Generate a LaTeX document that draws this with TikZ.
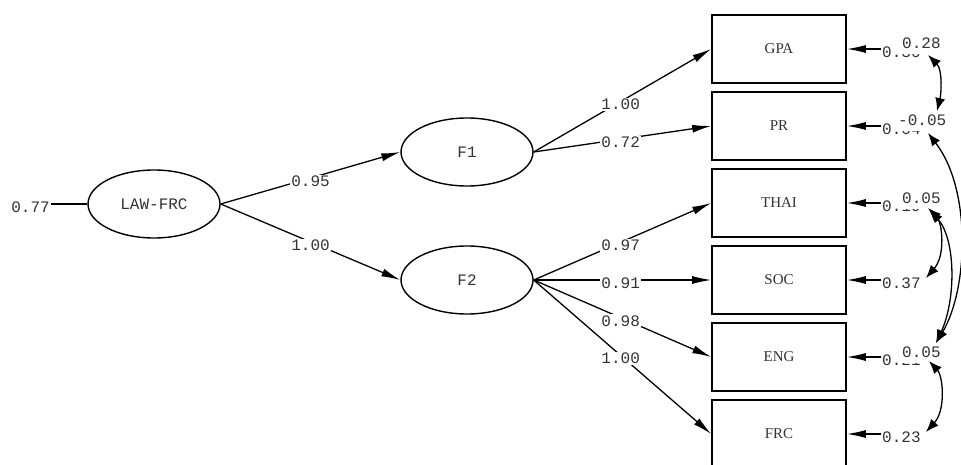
\documentclass[tikz,border=0pt]{standalone}
\usepackage{fontspec}
\setmonofont{Liberation Mono}
\newfontfamily\boxfont{Liberation Serif}
\usetikzlibrary{shapes.geometric,arrows.meta}
\tikzset{
  every node/.style={text=black!80},
  mono/.style={font=\ttfamily\fontsize{16pt}{18pt}\selectfont},
  obs/.style={draw, rectangle, line width=1.6pt, minimum width=134pt, minimum height=68pt,
    inner sep=0pt, font=\boxfont\fontsize{15pt}{17pt}\selectfont},
  lat/.style={draw, ellipse, line width=1.4pt, minimum width=132pt, minimum height=68pt,
    inner sep=0pt, mono},
  pathline/.style={line width=1.3pt, -{Latex[length=19pt,width=8pt]}},
  plainline/.style={line width=1.3pt},
  lab/.style={fill=white, inner sep=1pt, mono, yshift=-3pt},
  errtxt/.style={inner sep=1pt, mono, anchor=west},
  covtxt/.style={fill=white, inner sep=0pt, text depth=6pt, mono, anchor=west},
  cov/.style={line width=1.3pt, {Latex[length=13pt,width=10pt]}-{Latex[length=13pt,width=10pt]}},
}
\begin{document}
\begin{tikzpicture}[x=1pt,y=-1pt]
\useasboundingbox (0,0) rectangle (961,465);
\fill[white] (0,0) rectangle (961,465);

% latent variables
\node[lat] (law) at (154,204) {LAW-FRC};
\node[lat] (f1) at (467,152) {F1};
\node[lat] (f2) at (467,280) {F2};

% observed variables
\node[obs] (gpa)  at (779,49)  {GPA};
\node[obs] (pr)   at (779,126) {PR};
\node[obs] (thai) at (779,203) {THAI};
\node[obs] (soc)  at (779,280) {SOC};
\node[obs] (eng)  at (779,357) {ENG};
\node[obs] (frc)  at (779,434) {FRC};

% residual of LAW-FRC
\node[errtxt, anchor=east] (r0) at (51,207) {0.77};
\draw[plainline] (r0.east |- law.west) -- (law.west);

% structural paths
\draw[pathline] (law.east) -- node[lab]{0.95} (f1.west);
\draw[pathline] (law.east) -- node[lab]{1.00} (f2.west);

% loadings
\draw[pathline] (f1.east) -- node[lab, pos=0.49]{1.00} (gpa.west);
\draw[pathline] (f1.east) -- node[lab, pos=0.49]{0.72} (pr.west);
\draw[pathline] (f2.east) -- node[lab, pos=0.49]{0.97} (thai.west);
\draw[pathline] (f2.east) -- node[lab, pos=0.49]{0.91} (soc.west);
\draw[pathline] (f2.east) -- node[lab, pos=0.49]{0.98} (eng.west);
\draw[pathline] (f2.east) -- node[lab, pos=0.49]{1.00} (frc.west);

% error variances
\node[errtxt] (e1) at (881,52)  {0.30};
\node[errtxt] (e2) at (881,129) {0.04};
\node[errtxt] (e3) at (881,206) {0.19};
\node[errtxt] (e4) at (881,283) {0.37};
\node[errtxt] (e5) at (881,360) {0.21};
\node[errtxt] (e6) at (881,437) {0.23};
\draw[pathline] (e1.west |- gpa.east) -- (gpa.east);
\draw[pathline] (e2.west |- pr.east) -- (pr.east);
\draw[pathline] (e3.west |- thai.east) -- (thai.east);
\draw[pathline] (e4.west |- soc.east) -- (soc.east);
\draw[pathline] (e5.west |- eng.east) -- (eng.east);
\draw[pathline] (e6.west |- frc.east) -- (frc.east);

% covariance labels (overlapping the error variances)
\node[covtxt] (k1) at (902,46)  {0.28};
\node[covtxt] (k2) at (898,123) {-0.05};
\node[covtxt] (k3) at (902,201) {0.05};
\node[covtxt] (k5) at (902,355) {0.05};

% covariance arrows
\coordinate (a1) at (928,55);
\coordinate (b1) at (937,111);
\coordinate (a2) at (928,133);
\coordinate (b2) at (936,343);
\coordinate (a3) at (928,208);
\coordinate (b3) at (926,278);
\coordinate (a4) at (930,210);
\coordinate (a5) at (929,361);
\coordinate (b5) at (926,432);
\draw[cov] (a1) .. controls (943,70) and (941,95) .. (b1);
\draw[cov] (a2) .. controls (972,190) and (968,290) .. (b2);
\draw[cov] (a3) .. controls (942,222) and (946,255) .. (b3);
\draw[cov] (a4) .. controls (956,240) and (956,300) .. (b2);
\draw[cov] (a5) .. controls (943,376) and (946,410) .. (b5);
\end{tikzpicture}
\end{document}
